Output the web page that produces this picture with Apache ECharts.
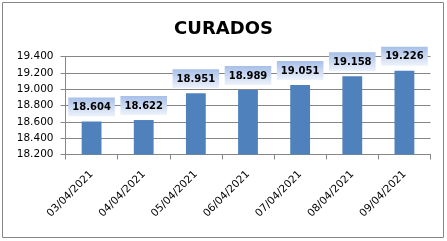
<!DOCTYPE html>
<html><head><meta charset="utf-8">
<script src="https://cdn.jsdelivr.net/npm/echarts@6/dist/echarts.min.js"></script>
<style>html,body{margin:0;padding:0;background:#fff}#c{width:447px;height:241px}</style>
</head><body><div id="c"></div>
<script>
const categories = ['03/04/2021','04/04/2021','05/04/2021','06/04/2021','07/04/2021','08/04/2021','09/04/2021'];
const curados = [18604, 18622, 18951, 18989, 19051, 19158, 19226];
const titleText = 'CURADOS';
const yMin = 18200, yMax = 19400, yStep = 200;

function fmt(v){ return String(v).replace(/\B(?=(\d{3})+(?!\d))/g, '.') + (String(v).length<=3?'':''); }
function fmtY(v){ const s = String(v); return s.slice(0, s.length-3) + '.' + s.slice(-3); }

const chart = echarts.init(document.getElementById('c'), null, {renderer:'canvas'});
chart.setOption({
  animation:false,
  title:{text:titleText, left:'center', top:15,
    textStyle:{fontFamily:'DejaVu Sans', fontWeight:'bold', fontSize:18, color:'#000'}},
  graphic:[{type:'rect', shape:{x:2.5,y:2.5,width:441,height:235}, style:{fill:null, stroke:'#868686', lineWidth:1}, silent:true}],
  grid:{left:65.5, right:16.5, top:56.5, bottom:86.5, containLabel:false},
  xAxis:{type:'category', data:categories,
    axisLine:{lineStyle:{color:'#868686'}},
    axisTick:{show:true, length:5, lineStyle:{color:'#868686'}},
    axisLabel:{rotate:45, margin:18, color:'#000', fontFamily:'DejaVu Sans', fontSize:10.5, interval:0}},
  yAxis:{type:'value', min:yMin, max:yMax, interval:yStep,
    axisLine:{show:true, lineStyle:{color:'#868686'}},
    axisTick:{show:true, length:5, lineStyle:{color:'#868686'}},
    splitLine:{lineStyle:{color:'#868686'}},
    axisLabel:{margin:12, color:'#000', fontFamily:'DejaVu Sans', fontSize:10.5, formatter:fmtY}},
  series:[{type:'bar', data:curados, barWidth:'38%',
    itemStyle:{color:'#4f81bd'},
    label:{show:true, position:'top', distance:5, formatter:p=>fmt(p.value),
      fontFamily:'DejaVu Sans', fontWeight:'bold', fontSize:10, color:'#000',
      padding:[5,4,4,4],
      backgroundColor:new echarts.graphic.LinearGradient(0,0,0,1,[{offset:0,color:'#a7bfe8'},{offset:1,color:'#eef3fb'}])}}]
});
</script></body></html>
